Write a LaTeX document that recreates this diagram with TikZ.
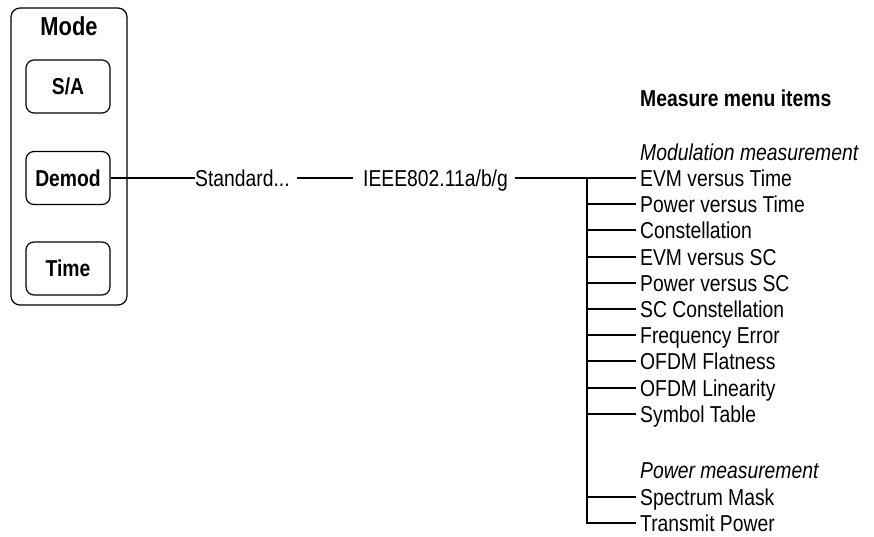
\documentclass[tikz,border=0pt]{standalone}
\usepackage{fontspec}
\setmainfont{Liberation Sans}[FakeStretch=0.84]
\begin{document}
\begin{tikzpicture}[x=1pt,y=-1pt,
  every node/.style={font=\fontsize{23}{27}\selectfont, inner sep=0pt},
  modebox/.style={draw, line width=1.2pt, rounded corners=8pt, minimum width=84pt, minimum height=53pt, font=\fontsize{23}{27}\selectfont\bfseries},
  item/.style={anchor=west, text height=16.5pt, text depth=0pt},
  tree/.style={line width=2pt},
  link/.style={line width=2pt}]
\useasboundingbox (0,0) rectangle (874,537);
% Mode panel
\node[draw, line width=1.2pt, rounded corners=9pt, minimum width=116pt, minimum height=297pt] (panel) at (69,156.5) {};
\node[font=\fontsize{26}{30}\selectfont\bfseries] (mode) at (69,26) {Mode};
\node[modebox] (sa) at (68,86.5) {S/A};
\node[modebox] (demod) at (68,178) {Demod};
\node[modebox] (time) at (68,268.5) {Time};
% chain
\node[item] (std) at (195,178) {Standard...};
\node[item] (ieee) at (363,178) {IEEE802.11a/b/g};
\draw[link] (demod.east) -- (demod.east -| std.west);
\draw[link] ([xshift=7pt]std.east) -- ([xshift=-10pt]ieee.west);
% headings
\node[item, font=\fontsize{23}{27}\selectfont\bfseries] (hdr) at (640,98) {Measure menu items};
\node[item, font=\fontsize{23}{27}\selectfont\itshape] (modm) at (640,152) {Modulation measurement};
\node[item, font=\fontsize{23}{27}\selectfont\itshape] (powm) at (640,470) {Power measurement};
% items
\node[item] (i1) at (640,178) {EVM versus Time};
\node[item] (i2) at (640,204) {Power versus Time};
\node[item] (i3) at (640,230) {Constellation};
\node[item] (i4) at (640,257) {EVM versus SC};
\node[item] (i5) at (640,283) {Power versus SC};
\node[item] (i6) at (640,309) {SC Constellation};
\node[item] (i7) at (640,335) {Frequency Error};
\node[item] (i8) at (640,361) {OFDM Flatness};
\node[item] (i9) at (640,388) {OFDM Linearity};
\node[item] (i10) at (640,414) {Symbol Table};
\node[item] (s1) at (640,497) {Spectrum Mask};
\node[item] (s2) at (640,523) {Transmit Power};
% tree
\coordinate (top) at (587,178);
\draw[tree] ([xshift=7pt]ieee.east) -- ([xshift=-4pt]i1.west);
\draw[tree] (top) |- ([xshift=-4pt]s2.west);
\foreach \n in {i2,i3,i4,i5,i6,i7,i8,i9,i10,s1}
  \draw[tree] (top |- \n.west) -- ([xshift=-4pt]\n.west);
\end{tikzpicture}
\end{document}
